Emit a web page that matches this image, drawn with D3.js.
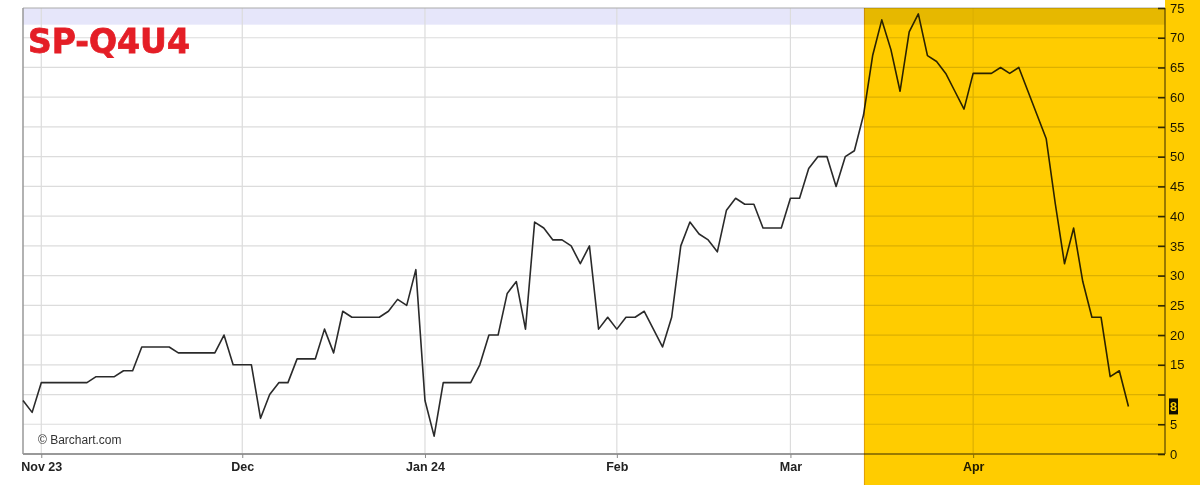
<!DOCTYPE html>
<html>
<head>
<meta charset="utf-8">
<script src="https://cdn.jsdelivr.net/npm/d3@7"></script>
<style>
  html, body { margin: 0; padding: 0; background: #fff; }
  svg { display: block; }
</style>
</head>
<body>
<svg id="chart" width="1200" height="485"></svg>
<script>
// ---- data (one value per trading day, index 0 = Oct 30 2023) ----
const values = [
  9, 7, 12, 12, 12, 12, 12, 12, 13, 13,
  13, 14, 14, 18, 18, 18, 18, 17, 17, 17,
  17, 17, 20, 15, 15, 15, 6, 10, 12, 12,
  16, 16, 16, 21, 17, 24, 23, 23, 23, 23,
  24, 26, 25, 31, 9, 3, 12, 12, 12, 12,
  15, 20, 20, 27, 29, 21, 39, 38, 36, 36,
  35, 32, 35, 21, 23, 21, 23, 23, 24, 21,
  18, 23, 35, 39, 37, 36, 34, 41, 43, 42,
  42, 38, 38, 38, 43, 43, 48, 50, 50, 45,
  50, 51, 57, 67, 73, 68, 61, 71, 74, 67,
  66, 64, 61, 58, 64, 64, 64, 65, 64, 65,
  61, 57, 53, 42, 32, 38, 29, 23, 23, 13,
  14, 8
];
const xTickLabels = ["Nov 23", "Dec", "Jan 24", "Feb", "Mar", "Apr"];
const xTickIndex  = [2, 24, 44, 65, 84, 104];
const yTicks = [0, 5, 10, 15, 20, 25, 30, 35, 40, 45, 50, 55, 60, 65, 70, 75];
const gridY  = [5, 10, 15, 20, 25, 30, 35, 40, 45, 50, 55, 60, 65, 70];
const highlightStartIndex = 92.1;
const lastValue = 8;
const title = "SP-Q4U4";

// ---- layout ----
const L = 23, R = 1165, T = 8, B = 454;
const x = d3.scaleLinear().domain([0, 125]).range([L, R]);
const y = d3.scaleLinear().domain([0, 75]).range([B, T]);

const svg = d3.select("#chart");

// plot background
svg.append("rect").attr("x", L).attr("y", T).attr("width", R - L).attr("height", B - T).attr("fill", "#fff");
// lavender header band
svg.append("rect").attr("x", L).attr("y", T).attr("width", R - L).attr("height", y(72.2) - T).attr("fill", "#e6e6fa");

// gridlines
svg.append("g").selectAll("line").data(gridY).join("line")
  .attr("x1", L).attr("x2", R).attr("y1", d => y(d)).attr("y2", d => y(d))
  .attr("stroke", "#dcdcdc").attr("stroke-width", 1.2);
svg.append("g").selectAll("line").data(xTickIndex).join("line")
  .attr("x1", d => x(d)).attr("x2", d => x(d)).attr("y1", T).attr("y2", B)
  .attr("stroke", "#dcdcdc").attr("stroke-width", 1.2);

// frame
svg.append("line").attr("x1", L).attr("x2", R).attr("y1", T).attr("y2", T).attr("stroke", "#aaa").attr("stroke-width", 1);
svg.append("line").attr("x1", L).attr("x2", L).attr("y1", T).attr("y2", B).attr("stroke", "#999").attr("stroke-width", 1.5);

// line series
const line = d3.line().x((d, i) => x(i)).y(d => y(d));
svg.append("path").datum(values).attr("d", line)
  .attr("fill", "none").attr("stroke", "#2a2a2a").attr("stroke-width", 1.6).attr("stroke-linejoin", "round");

// bottom axis
const xAxis = d3.axisBottom(x).tickValues(xTickIndex).tickFormat((d, i) => xTickLabels[i]).tickSize(4).tickPadding(4);
const gx = svg.append("g").attr("transform", `translate(0,${B})`).call(xAxis);
gx.select(".domain").attr("stroke", "#999").attr("stroke-width", 2).attr("d", `M${L},0H${R}`);
gx.selectAll(".tick line").attr("stroke", "#888");
gx.selectAll(".tick text").attr("fill", "#222").attr("font-family", "Liberation Sans, Arial, sans-serif")
  .attr("font-size", 12.5).attr("font-weight", "bold");

// right axis (label hidden where the last-value marker sits)
const yAxis = d3.axisRight(y).tickValues(yTicks).tickSize(-7).tickPadding(5)
  .tickFormat(d => Math.abs(d - lastValue) < 2.5 ? "" : d);
const gy = svg.append("g").attr("transform", `translate(${R},0)`).call(yAxis);
gy.select(".domain").attr("stroke", "#555").attr("stroke-width", 1.2).attr("d", `M0,${T}V${B}`);
gy.selectAll(".tick line").attr("stroke", "#333").attr("stroke-width", 1.6);
gy.selectAll(".tick text").attr("fill", "#1a1a1a").attr("font-family", "Liberation Sans, Arial, sans-serif")
  .attr("font-size", 13);

// last value marker
svg.append("rect").attr("x", R + 4).attr("y", y(lastValue) - 8).attr("width", 9).attr("height", 16).attr("fill", "#111");
svg.append("text").attr("x", R + 8.5).attr("y", y(lastValue) + 4.5).attr("text-anchor", "middle")
  .attr("font-family", "Liberation Sans, Arial, sans-serif").attr("font-size", 12.5).attr("font-weight", "bold")
  .attr("fill", "#fff").text(lastValue);

// watermark
svg.append("text").attr("x", 38).attr("y", 444).attr("font-family", "Liberation Sans, Arial, sans-serif")
  .attr("font-size", 12).attr("fill", "#333").text("\u00A9 Barchart.com");

// title
svg.append("text").attr("x", 28).attr("y", 53).attr("font-family", "DejaVu Sans, Verdana, sans-serif")
  .attr("font-size", 33).attr("font-weight", "bold").attr("fill", "#e41e26")
  .attr("stroke", "#e41e26").attr("stroke-width", 0.8).text(title);

// yellow highlighter overlay (multiply)
const hx = x(highlightStartIndex);
svg.append("path")
  .attr("d", `M${hx},${T}H${R}V0H1200V485H${hx}Z`)
  .attr("fill", "#ffcc00")
  .style("mix-blend-mode", "multiply");
svg.append("line").attr("x1", hx).attr("x2", hx).attr("y1", T).attr("y2", 485)
  .attr("stroke", "#e0b000").attr("stroke-width", 1).style("mix-blend-mode", "multiply");
</script>
</body>
</html>
